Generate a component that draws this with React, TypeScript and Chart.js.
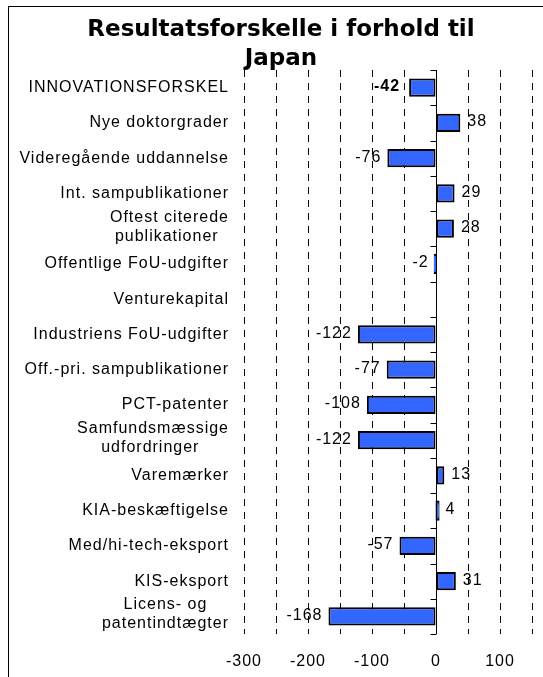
import { useEffect, useRef } from 'react';
import { Chart, registerables } from 'chart.js';

Chart.register(...registerables);

const titleLines: string[] = ['Resultatsforskelle i forhold til', 'Japan'];

const categories: (string | string[])[] = [
  'INNOVATIONSFORSKEL',
  'Nye doktorgrader',
  'Videregående uddannelse',
  'Int. sampublikationer',
  ['Oftest citerede', 'publikationer '],
  'Offentlige FoU-udgifter',
  'Venturekapital',
  'Industriens FoU-udgifter',
  'Off.-pri. sampublikationer',
  'PCT-patenter',
  ['Samfundsmæssige', 'udfordringer '],
  'Varemærker',
  'KIA-beskæftigelse',
  'Med/hi-tech-eksport',
  'KIS-eksport',
  ['Licens- og', 'patentindtægter'],
];

const values: (number | null)[] = [
  -42, 38, -76, 29, 28, -2, null, -122, -77, -108, -122, 13, 4, -57, 31, -168,
];

const boldValueIndex: number[] = [0];

const xMin = -300;
const xMax = 150;
const gridStep = 50;
const labelStep = 100;

const FONT_FAMILY = '"Liberation Sans", Arial, sans-serif';
const FONT_SIZE = 16;
const LETTER_SPACING = '1px';

const customPlugin = {
  id: 'customDraw',
  beforeDraw(chart: any) {
    chart.ctx.letterSpacing = LETTER_SPACING;
  },
  afterDatasetsDraw(chart: any) {
    const ctx = chart.ctx as CanvasRenderingContext2D;
    const xs = chart.scales.x;
    const ys = chart.scales.y;
    const area = chart.chartArea;
    const n = categories.length;
    const step = (area.bottom - area.top) / n;

    ctx.save();
    // zero axis line with tick marks between categories
    const x0 = Math.round(xs.getPixelForValue(0)) + 0.5;
    ctx.strokeStyle = '#000';
    ctx.lineWidth = 1;
    ctx.setLineDash([]);
    ctx.beginPath();
    ctx.moveTo(x0, area.top);
    ctx.lineTo(x0, area.bottom);
    for (let i = 0; i <= n; i++) {
      const y = Math.round(ys.getPixelForValue(0) - step / 2 + i * step) + 0.5;
      ctx.moveTo(x0 - 6, y);
      ctx.lineTo(x0, y);
    }
    ctx.stroke();

    // value labels
    const meta = chart.getDatasetMeta(0);
    ctx.fillStyle = '#000';
    ctx.textBaseline = 'middle';
    (ctx as any).letterSpacing = LETTER_SPACING;
    meta.data.forEach((bar: any, i: number) => {
      const v = values[i];
      if (v === null || v === undefined) return;
      const bold = boldValueIndex.includes(i);
      ctx.font = (bold ? 'bold ' : '') + FONT_SIZE + 'px ' + FONT_FAMILY;
      if (v < 0) {
        ctx.textAlign = 'right';
        ctx.fillText(String(v), bar.x - (bold ? 9 : 6), bar.y - 1);
      } else {
        ctx.textAlign = 'left';
        ctx.fillText(String(v), bar.x + 7, bar.y - 1);
      }
    });

    // category labels
    ctx.font = FONT_SIZE + 'px ' + FONT_FAMILY;
    const rightX = area.left - 15;
    const lineH = 19;
    categories.forEach((lab, i) => {
      const cy = ys.getPixelForValue(i);
      if (Array.isArray(lab)) {
        const widths = lab.map((l) => ctx.measureText(l).width);
        const W = Math.max(...widths);
        const cx = rightX - W / 2;
        ctx.textAlign = 'center';
        lab.forEach((l, k) => {
          ctx.fillText(l, cx, cy + (k - (lab.length - 1) / 2) * lineH - 2);
        });
      } else {
        ctx.textAlign = 'right';
        ctx.fillText(lab, rightX, cy);
      }
    });

    // title
    (ctx as any).letterSpacing = '0px';
    ctx.font = 'bold 23px "DejaVu Sans", Verdana, sans-serif';
    ctx.textAlign = 'center';
    ctx.textBaseline = 'alphabetic';
    const tx = chart.width / 2 + 5;
    titleLines.forEach((t, k) => {
      ctx.fillText(t, tx, 29 + k * 29);
    });
    ctx.restore();
  },
};

export default function App() {
  const ref = useRef<HTMLCanvasElement | null>(null);

  useEffect(() => {
    if (!ref.current) return;
    const chart = new Chart(ref.current, {
      type: 'bar',
      data: {
        labels: categories as any,
        datasets: [
          {
            data: values as any,
            backgroundColor: '#3366FF',
            borderColor: '#000000',
            borderWidth: 2,
            borderSkipped: false,
            barPercentage: 0.52,
            categoryPercentage: 1,
            inflateAmount: (c: any) => {
              const v = values[c.dataIndex];
              return v !== null && Math.abs(v) < 6 ? 1 : 'auto';
            },
          } as any,
        ],
      },
      options: {
        indexAxis: 'y',
        responsive: false,
        animation: false,
        layout: { padding: { left: 235, right: 11, top: 63, bottom: 0 } },
        plugins: {
          legend: { display: false },
          title: { display: false },
          tooltip: { enabled: false },
        },
        scales: {
          y: { display: false },
          x: {
            position: 'bottom',
            min: xMin,
            max: xMax,
            afterFit: (scale: any) => {
              scale.height = 43;
              scale.paddingLeft = 0;
              scale.paddingRight = 0;
            },
            ticks: {
              stepSize: gridStep,
              autoSkip: false,
              maxRotation: 0,
              padding: 18,
              color: '#000',
              font: { family: FONT_FAMILY, size: FONT_SIZE },
              callback: (v: any) => (Number(v) % labelStep === 0 ? String(v) : ''),
            },
            grid: {
              drawTicks: false,
              lineWidth: 1,
              color: (c: any) => (c.tick && c.tick.value === 0 ? 'rgba(0,0,0,0)' : '#000'),
            },
            border: { display: false, dash: [7, 6] },
          },
        },
      },
      plugins: [customPlugin],
    });
    return () => chart.destroy();
  }, []);

  return (
    <div
      style={{
        position: 'absolute',
        left: 8,
        top: 6,
        width: 535,
        height: 671,
        borderLeft: '1px solid #000',
        borderTop: '1px solid #000',
        boxSizing: 'border-box',
        background: '#fff',
      }}
    >
      <canvas ref={ref} width={534} height={670} style={{ display: 'block', width: 534, height: 670 }} />
    </div>
  );
}
